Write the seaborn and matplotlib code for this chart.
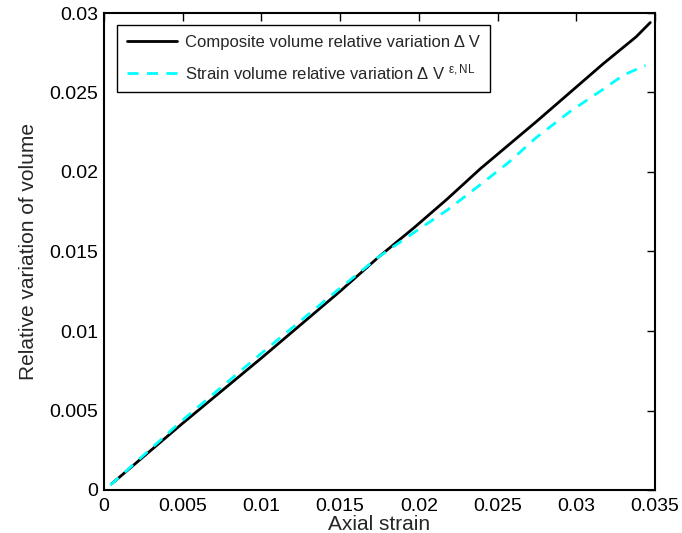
import numpy as np
import pandas as pd
import matplotlib
matplotlib.use("Agg")
import matplotlib.pyplot as plt
import seaborn as sns

# curvas
strain_comp = [0.0005, 0.005, 0.01, 0.015, 0.0175, 0.0197, 0.0218, 0.0239, 0.0257,
               0.0275, 0.0296, 0.0317, 0.0338, 0.0347]
vol_comp = [0.0004, 0.0042, 0.0083, 0.0125, 0.0147, 0.0165, 0.0183, 0.0202, 0.0217,
            0.0232, 0.0250, 0.0268, 0.0285, 0.0294]

strain_nl = [0.0004, 0.005, 0.01, 0.015, 0.0175, 0.0197, 0.0218, 0.0239, 0.0257,
             0.0275, 0.0296, 0.0317, 0.0330, 0.0344]
vol_nl = [0.0003, 0.0044, 0.0086, 0.0127, 0.0147, 0.0162, 0.0176, 0.0192, 0.0206,
          0.0222, 0.0238, 0.0252, 0.0261, 0.0267]

label_comp = "Composite volume relative variation \u0394 V"
label_nl = "Strain volume relative variation \u0394 V $^{\\mathrm{\u03b5,NL}}$"

xticks = [0, 0.005, 0.01, 0.015, 0.02, 0.025, 0.03, 0.035]
yticks = [0, 0.005, 0.01, 0.015, 0.02, 0.025, 0.03]
xticklabels = ['0', '0.005', '0.01', '0.015', '0.02', '0.025', '0.03', '0.035']
yticklabels = ['0', '0.005', '0.01', '0.015', '0.02', '0.025', '0.03']

sns.set_style("white")
plt.rcParams['font.family'] = ['Liberation Sans', 'DejaVu Sans']
plt.rcParams['mathtext.fontset'] = 'custom'
plt.rcParams['mathtext.rm'] = 'Liberation Sans'
plt.rcParams['mathtext.it'] = 'Liberation Sans:italic'

df_comp = pd.DataFrame({'strain': strain_comp, 'vol': vol_comp})
df_nl = pd.DataFrame({'strain': strain_nl, 'vol': vol_nl})

fig = plt.figure(figsize=(6.82, 5.33), dpi=100)
ax = fig.add_axes([104 / 682, 43 / 533, 551 / 682, 477 / 533])

sns.lineplot(data=df_comp, x='strain', y='vol', ax=ax, color='black', linewidth=2,
             sort=False, estimator=None, label=label_comp)
sns.lineplot(data=df_nl, x='strain', y='vol', ax=ax, color='cyan', linewidth=2,
             sort=False, estimator=None, label=label_nl)
ax.lines[1].set_linestyle((0, (4, 3)))

ax.set_xlim(0, 0.035)
ax.set_ylim(0, 0.03)
ax.set_xticks(xticks)
ax.set_yticks(yticks)
ax.set_xticklabels(xticklabels)
ax.set_yticklabels(yticklabels)
ax.tick_params(direction='in', top=True, right=True, length=6, width=1,
               labelsize=14, colors='black')
ax.tick_params(axis='x', pad=6)
ax.tick_params(axis='y', pad=4)
for s in ax.spines.values():
    s.set_color('black')
    s.set_linewidth(1.5)

# en el original la etiqueta queda casi fuera de la figura
ax.set_xlabel("Axial strain", fontsize=15, labelpad=0)
ax.set_ylabel("Relative variation of volume", fontsize=15, labelpad=8)

leg = ax.legend(loc='upper left', bbox_to_anchor=(0.0235, 0.975), fontsize=12,
                handlelength=3.0, handletextpad=0.5, frameon=True, fancybox=False,
                borderpad=0.6, labelspacing=0.75, borderaxespad=0)
leg.get_frame().set_edgecolor('black')
leg.get_frame().set_linewidth(1)
leg.get_frame().set_alpha(1)

fig.savefig("out.png", dpi=100)
